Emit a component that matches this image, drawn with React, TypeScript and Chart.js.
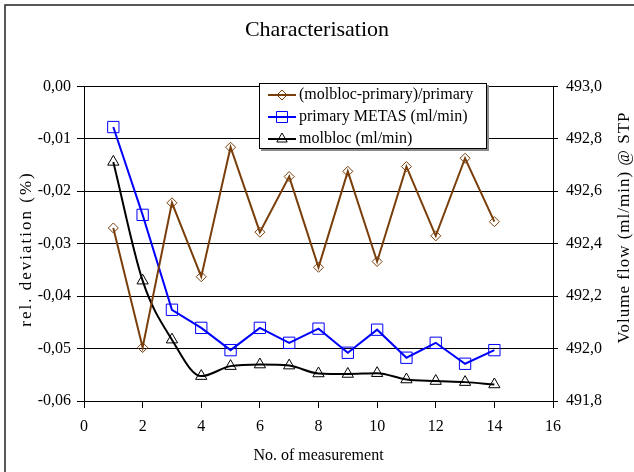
import { useEffect, useRef } from 'react';
import { Chart, registerables } from 'chart.js';

Chart.register(...registerables);

const measurements = [1, 2, 3, 4, 5, 6, 7, 8, 9, 10, 11, 12, 13, 14];
const relDeviation = [-0.0270, -0.0498, -0.0222, -0.0363, -0.0116, -0.0278, -0.0172, -0.0345, -0.0162, -0.0334, -0.0153, -0.0285, -0.0137, -0.0258];
const primaryMetas = [492.845, 492.510, 492.148, 492.079, 491.994, 492.079, 492.022, 492.076, 491.984, 492.072, 491.965, 492.022, 491.942, 491.994];
const molbloc = [492.712, 492.259, 492.034, 491.895, 491.933, 491.939, 491.935, 491.905, 491.903, 491.906, 491.882, 491.876, 491.872, 491.863];
const seriesLabels = ['(molbloc-primary)/primary', 'primary METAS (ml/min)', 'molbloc (ml/min)'];
const seriesColors = ['#7A3E0A', '#0000FF', '#000000'];
const titleText = 'Characterisation';
const xTitle = 'No. of measurement';
const yLeftTitle = 'rel. deviation (%)';
const yRightTitle = 'Volume flow (ml/min) @ STP';

const FONT = "'Liberation Serif', 'Times New Roman', serif";

const framePlugin = {
  id: 'frame',
  beforeDraw(chart: any) {
    const { ctx, width, height } = chart;
    ctx.save();
    ctx.fillStyle = '#ffffff';
    ctx.fillRect(0, 0, width, height);
    ctx.strokeStyle = '#222';
    ctx.lineWidth = 1.5;
    ctx.beginPath();
    ctx.moveTo(5, height + 2);
    ctx.lineTo(5, 5);
    ctx.lineTo(width + 2, 5);
    ctx.stroke();
    ctx.restore();
  },
};

const verticalTitlesPlugin = {
  id: 'verticalTitles',
  afterDraw(chart: any) {
    const { ctx } = chart;
    const drawRot = (text: string, cx: number, cy: number, size: number, spacing: number) => {
      ctx.save();
      ctx.translate(cx, cy);
      ctx.rotate(-Math.PI / 2);
      ctx.font = `${size}px ${FONT}`;
      try { (ctx as any).letterSpacing = `${spacing}px`; } catch (e) { /* ignore */ }
      ctx.fillStyle = '#000';
      ctx.textAlign = 'center';
      ctx.textBaseline = 'middle';
      ctx.fillText(text, spacing / 2, 0);
      ctx.restore();
    };
    drawRot(yLeftTitle, 27, 250, 17, 2);
    drawRot(yRightTitle, 625, 228, 17, 1);
  },
};

const legendPlugin = {
  id: 'boxLegend',
  afterDatasetsDraw(chart: any) {
    const { ctx } = chart;
    const x = 259, y = 83, w = 228, h = 66;
    ctx.save();
    ctx.fillStyle = '#8a8a8a';
    ctx.fillRect(x + 2, y + 2, w, h);
    ctx.fillStyle = '#ffffff';
    ctx.fillRect(x, y, w, h);
    ctx.strokeStyle = '#000';
    ctx.lineWidth = 1;
    ctx.strokeRect(x + 0.5, y + 0.5, w - 1, h - 1);
    chart.data.datasets.forEach((ds: any, i: number) => {
      const cy = 95 + i * 22;
      ctx.strokeStyle = ds.borderColor;
      ctx.lineWidth = 2;
      ctx.beginPath();
      ctx.moveTo(268, cy);
      ctx.lineTo(296, cy);
      ctx.stroke();
      ctx.lineWidth = 1;
      ctx.strokeStyle = ds.pointBorderColor;
      const cx = 282;
      ctx.beginPath();
      if (ds.pointStyle === 'rectRot') {
        const r = 5;
        ctx.moveTo(cx, cy - r);
        ctx.lineTo(cx + r, cy);
        ctx.lineTo(cx, cy + r);
        ctx.lineTo(cx - r, cy);
        ctx.closePath();
      } else if (ds.pointStyle === 'rect') {
        const s = 5.5;
        ctx.rect(cx - s, cy - s, 2 * s, 2 * s);
      } else {
        const r = 6;
        ctx.moveTo(cx, cy - r);
        ctx.lineTo(cx + r * 0.866, cy + r * 0.5);
        ctx.lineTo(cx - r * 0.866, cy + r * 0.5);
        ctx.closePath();
      }
      ctx.stroke();
      ctx.fillStyle = '#000';
      ctx.font = `16px ${FONT}`;
      ctx.textBaseline = 'middle';
      ctx.textAlign = 'left';
      ctx.fillText(ds.label, 299, cy);
    });
    ctx.restore();
  },
};

export default function App() {
  const ref = useRef<HTMLCanvasElement | null>(null);
  useEffect(() => {
    if (!ref.current) return;
    const pts = (arr: number[]) => measurements.map((m, i) => ({ x: m, y: arr[i] }));
    const chart = new Chart(ref.current, {
      type: 'line',
      data: {
        datasets: [
          {
            label: seriesLabels[0],
            data: pts(relDeviation),
            yAxisID: 'yLeft',
            borderColor: seriesColors[0],
            borderWidth: 2,
            pointStyle: 'rectRot',
            pointRadius: 5,
            pointBorderWidth: 1,
            pointBorderColor: seriesColors[0],
            pointBackgroundColor: 'rgba(0,0,0,0)',
            tension: 0,
          },
          {
            label: seriesLabels[1],
            data: pts(primaryMetas),
            yAxisID: 'yRight',
            borderColor: seriesColors[1],
            borderWidth: 2,
            pointStyle: 'rect',
            pointRadius: 8,
            pointBorderWidth: 1,
            pointBorderColor: seriesColors[1],
            pointBackgroundColor: 'rgba(0,0,0,0)',
            tension: 0,
          },
          {
            label: seriesLabels[2],
            data: pts(molbloc),
            yAxisID: 'yRight',
            borderColor: seriesColors[2],
            borderWidth: 2,
            pointStyle: 'triangle',
            pointRadius: 6.5,
            pointBorderWidth: 1,
            pointBorderColor: seriesColors[2],
            pointBackgroundColor: 'rgba(0,0,0,0)',
            cubicInterpolationMode: 'monotone',
          },
        ] as any,
      },
      options: {
        animation: false,
        responsive: false,
        maintainAspectRatio: false,
        layout: { padding: 0 },
        plugins: {
          legend: { display: false },
          tooltip: { enabled: false },
          title: {
            display: true,
            text: titleText,
            color: '#000',
            font: { family: FONT, size: 22, weight: 'normal', lineHeight: 1.2 },
            padding: { top: 17, bottom: 43 },
          },
        },
        scales: {
          x: {
            type: 'linear',
            min: 0,
            max: 16,
            ticks: {
              stepSize: 2,
              color: '#000',
              font: { family: FONT, size: 16 },
              padding: 9,
              maxRotation: 0,
            },
            grid: { drawOnChartArea: false, drawTicks: true, tickLength: 7, color: '#000' },
            border: { color: '#000', width: 1 },
            title: {
              display: true,
              text: xTitle,
              color: '#000',
              font: { family: FONT, size: 16, lineHeight: 1.2 },
              padding: { top: 0, bottom: 7 },
            },
            afterFit: (s: any) => { s.height = 71; },
          },
          yLeft: {
            type: 'linear',
            position: 'left',
            min: -0.06,
            max: 0,
            ticks: {
              stepSize: 0.01,
              color: '#000',
              font: { family: FONT, size: 16 },
              padding: 6,
              callback: (v: any) => {
                const n = Math.abs(Number(v)) < 1e-9 ? 0 : Number(v);
                return n.toFixed(2).replace('.', ',');
              },
            },
            grid: { color: '#000', lineWidth: 1, tickLength: 7, drawTicks: true },
            border: { color: '#000', width: 1 },
            title: { display: false },
            afterFit: (s: any) => { s.width = 84; },
          },
          yRight: {
            type: 'linear',
            position: 'right',
            min: 491.8,
            max: 493.0,
            ticks: {
              stepSize: 0.2,
              color: '#000',
              font: { family: FONT, size: 16 },
              padding: 8,
              callback: (v: any) => Number(v).toFixed(1).replace('.', ','),
            },
            grid: { drawOnChartArea: false, tickLength: 5, color: '#000' },
            border: { color: '#000', width: 1 },
            title: { display: false },
            afterFit: (s: any) => { s.width = 81; },
          },
        },
      } as any,
      plugins: [framePlugin, legendPlugin, verticalTitlesPlugin],
    });
    return () => chart.destroy();
  }, []);
  return (
    <div style={{ position: 'absolute', left: 0, top: 0, width: 634, height: 472 }}>
      <canvas ref={ref} width={634} height={472} style={{ display: 'block', width: 634, height: 472 }} />
    </div>
  );
}
